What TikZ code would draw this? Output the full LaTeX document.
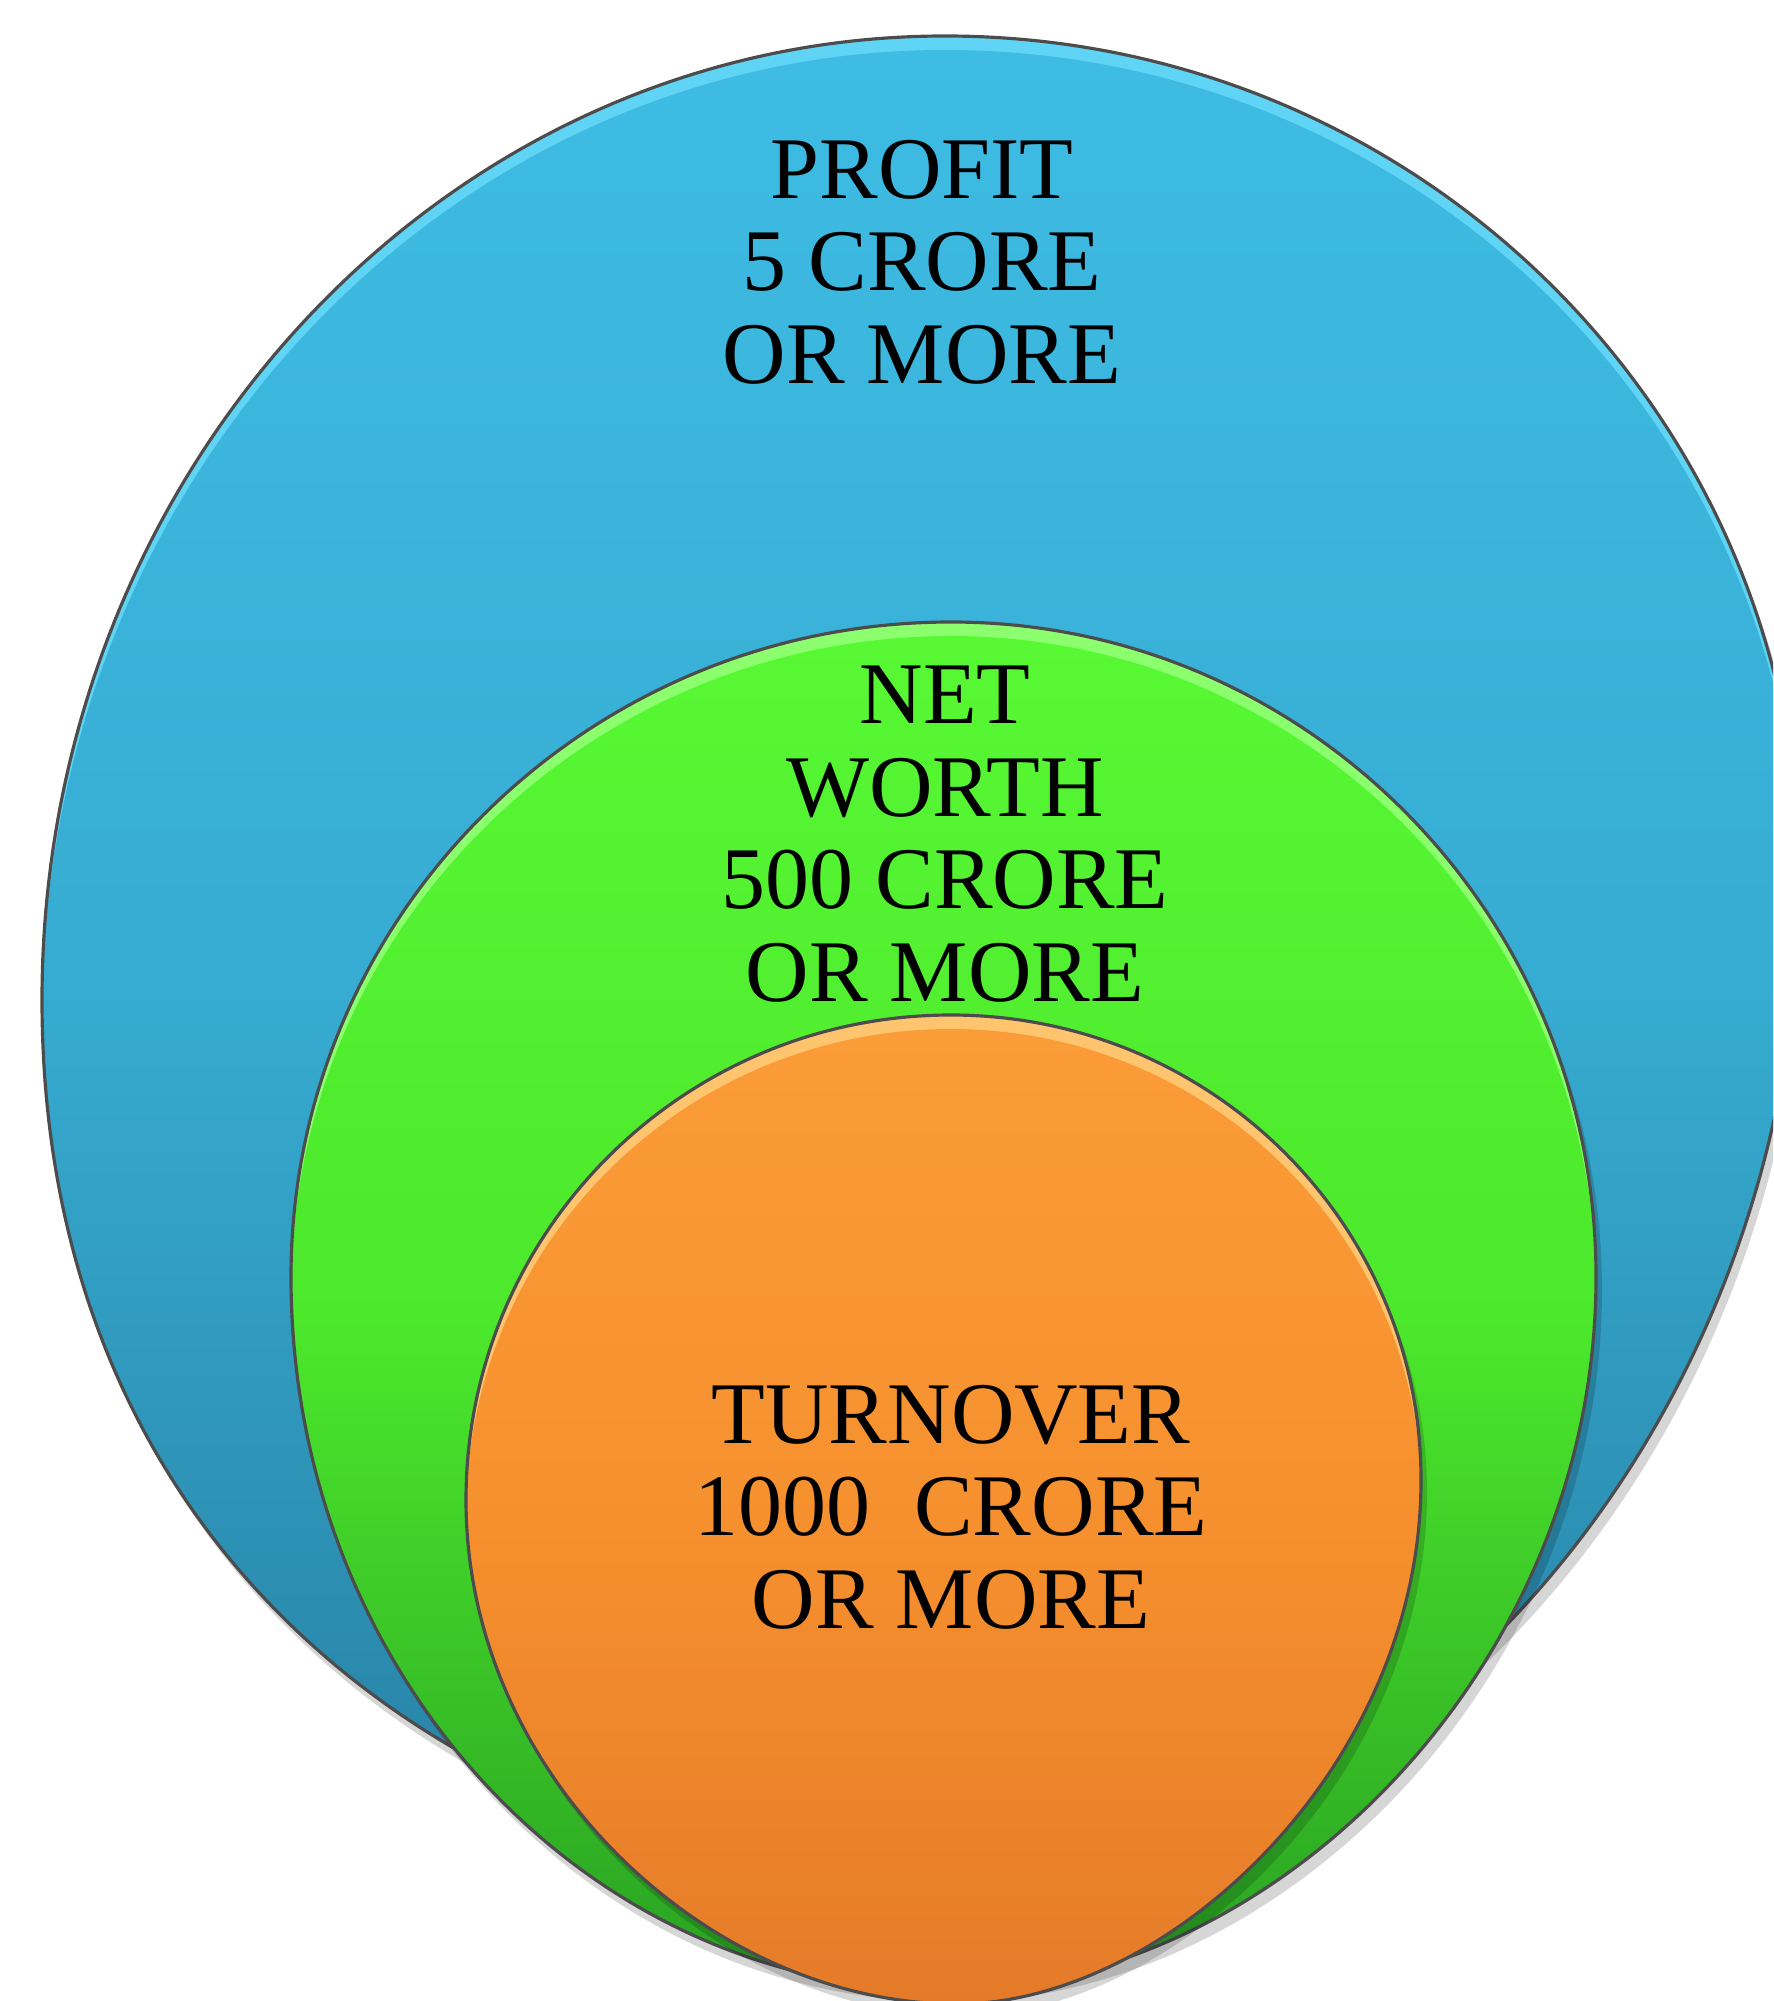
\documentclass[tikz,border=0pt]{standalone}
\usepackage{fontspec}
\setmainfont{Liberation Serif}

\definecolor{profitlight}{RGB}{95,212,245}
\definecolor{profittop}{RGB}{62,188,228}
\definecolor{profitmid}{RGB}{55,172,210}
\definecolor{profitbot}{RGB}{38,128,162}
\definecolor{worthlight}{RGB}{140,255,110}
\definecolor{worthtop}{RGB}{88,248,52}
\definecolor{worthmid}{RGB}{76,232,44}
\definecolor{worthbot}{RGB}{40,160,34}
\definecolor{turnlight}{RGB}{255,196,110}
\definecolor{turntop}{RGB}{250,156,56}
\definecolor{turnmid}{RGB}{246,144,46}
\definecolor{turnbot}{RGB}{228,122,40}

\tikzset{
  ringedge/.style={draw=black!70, line width=0.9pt},
  ringshadow/.style={fill=black, opacity=0.16},
  ringtext/.style={align=center, inner sep=0pt, text=black,
    font=\fontsize{25}{26.3}\selectfont}
}

% outlines of the three rings (top, right, bottom, left)
\newcommand\profitpath{(945,36)
  .. controls (1417,36) and (1800,414) .. (1800,880)
  .. controls (1800,1443) and (1380,1880) .. (960,1880)
  .. controls (500,1880) and (42,1585) .. (42,1000)
  .. controls (42,468) and (447,36) .. cycle}
\newcommand\worthpath{(951,622)
  .. controls (1307,622) and (1596,915) .. (1596,1277)
  .. controls (1596,1671) and (1271,1990) .. (945,1990)
  .. controls (584,1990) and (291,1671) .. (291,1277)
  .. controls (291,915) and (587,622) .. cycle}
\newcommand\turnpath{(951,1015)
  .. controls (1210,1015) and (1421,1223) .. (1421,1480)
  .. controls (1421,1769) and (1166,2004) .. (957,2004)
  .. controls (711,2004) and (466,1778) .. (466,1500)
  .. controls (466,1232) and (683,1015) .. cycle}

\begin{document}
\begin{tikzpicture}[x=0.01cm, y=-0.01cm]

    \useasboundingbox (0,0) rectangle (1773,2001);
    \clip (0,0) rectangle (1773,2001);

    % Profit
    \fill[ringshadow, shift={(6,12)}] \profitpath;
    \fill[profitlight] \profitpath;
    \begin{scope}
        \clip \profitpath;
        \shade[top color=profittop, bottom color=profitbot, middle color=profitmid,
            shift={(0,14)}] \profitpath;
    \end{scope}
    \draw[ringedge] \profitpath;
    \node[ringtext] (profit) at (922,262) {PROFIT\\5 CRORE\\OR MORE};

    % Net worth
    \fill[ringshadow, shift={(6,12)}] \worthpath;
    \fill[worthlight] \worthpath;
    \begin{scope}
        \clip \worthpath;
        \shade[top color=worthtop, bottom color=worthbot, middle color=worthmid,
            shift={(0,14)}] \worthpath;
    \end{scope}
    \draw[ringedge] \worthpath;
    \node[ringtext] (worth) at (945,834) {NET\\WORTH\\500 CRORE\\OR MORE};

    % Turnover
    \fill[ringshadow, shift={(6,12)}] \turnpath;
    \fill[turnlight] \turnpath;
    \begin{scope}
        \clip \turnpath;
        \shade[top color=turntop, bottom color=turnbot, middle color=turnmid,
            shift={(0,14)}] \turnpath;
    \end{scope}
    \draw[ringedge] \turnpath;
    \node[ringtext] (turnover) at (951,1507) {TURNOVER\\1000~~CRORE\\OR MORE};

\end{tikzpicture}
\end{document}
